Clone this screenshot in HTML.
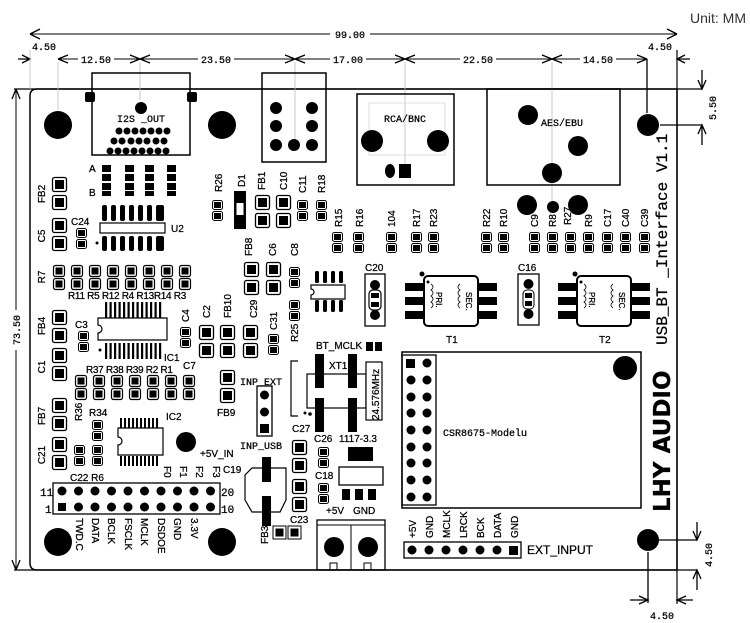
<!DOCTYPE html>
<html><head><meta charset="utf-8"><style>
html,body{margin:0;padding:0;background:#fff;}
svg{display:block;}
text{font-family:"Liberation Sans",sans-serif;font-size:10px;fill:#000;stroke:#000;stroke-width:0.25px;}
.m{font-family:"Liberation Mono",monospace;}
</style></head><body>
<svg width="750" height="623" viewBox="0 0 750 623" xmlns="http://www.w3.org/2000/svg">
<defs>
<g id="sr"><rect x="0.5" y="0.5" width="10" height="9" rx="2" fill="none" stroke="#000"/><rect x="2" y="2" width="7" height="6"/><rect x="0.5" y="11.5" width="10" height="9" rx="2" fill="none" stroke="#000"/><rect x="2" y="13" width="7" height="6"/></g>
<g id="mr"><rect x="0.5" y="0.5" width="11" height="11" rx="2" fill="none" stroke="#000" stroke-width="1.2"/><rect x="2.5" y="2.5" width="7" height="7"/><rect x="0.5" y="13.5" width="11" height="11" rx="2" fill="none" stroke="#000" stroke-width="1.2"/><rect x="2.5" y="15.5" width="7" height="7"/></g>
<g id="lc"><rect x="0.5" y="0.5" width="14" height="14" rx="2" fill="none" stroke="#000" stroke-width="1.3"/><rect x="3" y="3" width="9" height="9"/><rect x="0.5" y="18.5" width="14" height="14" rx="2" fill="none" stroke="#000" stroke-width="1.3"/><rect x="3" y="21" width="9" height="9"/></g>
<g id="xf">
<rect x="19" y="0" width="54" height="50" rx="4" fill="none" stroke="#000" stroke-width="2"/>
<rect x="0" y="7" width="19" height="8"/><rect x="0" y="21" width="19" height="8"/><rect x="0" y="35" width="19" height="8"/>
<rect x="73" y="7" width="19" height="8"/><rect x="73" y="21" width="19" height="8"/><rect x="73" y="35" width="19" height="8"/>
<circle cx="17" cy="-2" r="2.5"/><circle cx="23" cy="6" r="1.5"/>
<path d="M26 8 q4 3 0 6 q4 3 0 6 q4 3 0 6 q4 3 0 6 M55 8 q-4 3 0 6 q-4 3 0 6 q-4 3 0 6 q-4 3 0 6" fill="none" stroke="#000" stroke-width="0.8"/>
</g>
</defs>

<text x="690" y="23" style="font-size:14px;fill:#333;stroke:none">Unit: MM</text>

<path d="M30 96 Q30 89 37 89 L677 89 L677 570 L37 570 Q30 570 30 563 Z" fill="none" stroke="#000" stroke-width="1.5"/>
<line x1="14" y1="89" x2="702" y2="89" stroke="#000" stroke-width="1.2"/>
<line x1="14" y1="570" x2="697" y2="570" stroke="#000" stroke-width="1.2"/>
<line x1="677" y1="50" x2="677" y2="604" stroke="#000" stroke-width="1.2"/>

<line x1="30" y1="34" x2="677" y2="34" stroke="#000"/>
<path d="M30 34 l10 -5 M30 34 l10 5 M677 34 l-10 -5 M677 34 l-10 5" stroke="#000" fill="none" stroke-width="1.3"/>
<rect x="330" y="28" width="40" height="12" fill="#fff"/><text x="350" y="38" text-anchor="middle" class="m">99.00</text>
<line x1="16" y1="89" x2="16" y2="570" stroke="#000"/>
<path d="M16 89 l-4 10 M16 89 l4 10 M16 570 l-4 -10 M16 570 l4 -10" stroke="#000" fill="none" stroke-width="1.3"/>
<rect x="10" y="310" width="12" height="40" fill="#fff"/>
<text transform="translate(20,330) rotate(-90)" text-anchor="middle" class="m">73.50</text>

<line x1="58" y1="59" x2="647" y2="59" stroke="#000"/>
<path d="M18 59 L30 59 M22 55 L30 59 L22 63" stroke="#000" fill="none" stroke-width="1.3"/>
<path d="M58 59 l10 -4 M58 59 l10 4 M140 59 l-10 -4 M140 59 l-10 4 M140 59 l10 -4 M140 59 l10 4 M295 59 l-10 -4 M295 59 l-10 4 M295 59 l10 -4 M295 59 l10 4 M405 59 l-10 -4 M405 59 l-10 4 M405 59 l10 -4 M405 59 l10 4 M552 59 l-10 -4 M552 59 l-10 4 M552 59 l10 -4 M552 59 l10 4 M647 59 l-10 -4 M647 59 l-10 4" stroke="#000" fill="none" stroke-width="1.3"/>
<path d="M690 59 L677 59 M685 55 L677 59 L685 63" stroke="#000" fill="none" stroke-width="1.3"/>
<g fill="#fff"><rect x="78" y="53" width="36" height="12"/><rect x="198" y="53" width="36" height="12"/><rect x="330" y="53" width="36" height="12"/><rect x="460" y="53" width="36" height="12"/><rect x="580" y="53" width="36" height="12"/></g>
<text x="96" y="63" text-anchor="middle" class="m">12.50</text>
<text x="216" y="63" text-anchor="middle" class="m">23.50</text>
<text x="348" y="63" text-anchor="middle" class="m">17.00</text>
<text x="478" y="63" text-anchor="middle" class="m">22.50</text>
<text x="598" y="63" text-anchor="middle" class="m">14.50</text>
<text x="44" y="50" text-anchor="middle" class="m">4.50</text>
<text x="660" y="50" text-anchor="middle" class="m">4.50</text>
<g stroke="#bbb" stroke-width="0.8"><line x1="58" y1="62" x2="58" y2="110"/><line x1="140" y1="62" x2="140" y2="100"/><line x1="295" y1="62" x2="295" y2="140"/><line x1="405" y1="62" x2="405" y2="165"/><line x1="552" y1="62" x2="552" y2="205"/><line x1="30" y1="50" x2="30" y2="89"/></g>
<line x1="647" y1="59" x2="647" y2="113" stroke="#000" stroke-width="1.3"/>

<line x1="660" y1="125" x2="702" y2="125" stroke="#000" stroke-width="1.2"/>
<path d="M702 70 L702 89 M698 80 L702 89 L706 80 M702 145 L702 125 M698 134 L702 125 L706 134" stroke="#000" fill="none" stroke-width="1.3"/>
<text transform="translate(716,108) rotate(-90)" text-anchor="middle" class="m">5.50</text>

<line x1="659" y1="540" x2="697" y2="540" stroke="#000" stroke-width="1.2"/>
<path d="M697 522 L697 540 M693 531 L697 540 L701 531 M697 590 L697 570 M693 579 L697 570 L701 579" stroke="#000" fill="none" stroke-width="1.3"/>
<text transform="translate(712,555) rotate(-90)" text-anchor="middle" class="m">4.50</text>
<line x1="648" y1="552" x2="648" y2="603" stroke="#000" stroke-width="1.3"/>
<path d="M630 600 L648 600 M639 596 L648 600 L639 604 M693 600 L677 600 M686 596 L677 600 L686 604" stroke="#000" fill="none" stroke-width="1.3"/>
<text x="662" y="619" text-anchor="middle" class="m">4.50</text>

<circle cx="58" cy="125" r="14"/><circle cx="222" cy="125" r="14"/>
<circle cx="58" cy="542" r="14"/><circle cx="222" cy="542" r="14"/>
<circle cx="648" cy="125" r="11"/><circle cx="648" cy="540" r="11"/>
<circle cx="186" cy="442" r="10"/>

<rect x="92" y="73" width="98" height="82" fill="none" stroke="#000" stroke-width="1.5"/>
<rect x="85" y="92" width="10" height="10" rx="2"/><rect x="187" y="92" width="10" height="10" rx="2"/>
<circle cx="141" cy="108" r="6"/>
<text x="141" y="122" text-anchor="middle" class="m">I2S _OUT</text>
<g>
<circle cx="119" cy="131" r="3.5"/><circle cx="127" cy="131" r="3.5"/><circle cx="135" cy="131" r="3.5"/><circle cx="143" cy="131" r="3.5"/><circle cx="151" cy="131" r="3.5"/><circle cx="159" cy="131" r="3.5"/><circle cx="167" cy="131" r="3.5"/>
<circle cx="114" cy="141" r="3.5"/><circle cx="122" cy="141" r="3.5"/><circle cx="131" cy="141" r="3.5"/><circle cx="139" cy="141" r="3.5"/><circle cx="147" cy="141" r="3.5"/><circle cx="156" cy="141" r="3.5"/><circle cx="164" cy="141" r="3.5"/>
<circle cx="110" cy="151" r="3.5"/><circle cx="118" cy="151" r="3.5"/><circle cx="126" cy="151" r="3.5"/><circle cx="134" cy="151" r="3.5"/><circle cx="142" cy="151" r="3.5"/><circle cx="150" cy="151" r="3.5"/><circle cx="158" cy="151" r="3.5"/><circle cx="166" cy="151" r="3.5"/>
</g>

<rect x="262" y="73" width="64" height="89" fill="none" stroke="#000" stroke-width="1.5"/>
<circle cx="276" cy="108" r="6"/><circle cx="312" cy="108" r="6"/><circle cx="276" cy="126" r="6"/><circle cx="312" cy="126" r="6"/><circle cx="276" cy="145" r="6"/><circle cx="294" cy="145" r="6"/><circle cx="312" cy="145" r="6"/>

<rect x="357" y="94" width="97" height="91" fill="none" stroke="#000" stroke-width="1.5"/>
<rect x="369" y="103" width="76" height="52" fill="none" stroke="#ddd"/>
<text x="405" y="122" text-anchor="middle" class="m">RCA/BNC</text>
<circle cx="372" cy="141" r="11"/><circle cx="438" cy="141" r="11"/>
<ellipse cx="390" cy="171" rx="5" ry="7"/><rect x="399" y="164" width="12" height="14"/>

<rect x="487" y="89" width="133" height="96" fill="none" stroke="#000" stroke-width="1.5"/>
<text x="562" y="126" text-anchor="middle" class="m">AES/EBU</text>
<circle cx="528" cy="115" r="10"/><circle cx="578" cy="146" r="10"/><circle cx="552" cy="173" r="10"/>
<circle cx="527" cy="205" r="10"/><circle cx="553" cy="207" r="6"/><circle cx="578" cy="205" r="10"/>

<text transform="translate(667,345) rotate(-90)" class="m" style="font-size:16px">USB_BT _Interface V1.1</text>
<text transform="translate(670,512) rotate(-90)" style="font-size:23px;font-weight:bold;font-family:'DejaVu Sans',sans-serif">LHY AUDIO</text>

<use href="#lc" x="52" y="177"/><text transform="translate(45,194) rotate(-90)" text-anchor="middle">FB2</text>
<use href="#lc" x="52" y="218"/><text transform="translate(45,236) rotate(-90)" text-anchor="middle">C5</text>
<use href="#sr" x="76" y="228"/><text x="71" y="225">C24</text>

<text x="89" y="172">A</text><text x="89" y="196">B</text>
<g>
<rect x="102" y="165" width="9" height="7"/><rect x="102" y="174" width="9" height="7"/><rect x="102" y="183" width="9" height="7"/><rect x="102" y="191" width="9" height="5"/>
<rect x="125" y="165" width="9" height="7"/><rect x="125" y="174" width="9" height="7"/><rect x="125" y="183" width="9" height="7"/><rect x="125" y="191" width="9" height="5"/>
<rect x="145" y="165" width="9" height="7"/><rect x="145" y="174" width="9" height="7"/><rect x="145" y="183" width="9" height="7"/><rect x="145" y="191" width="9" height="5"/>
<rect x="167" y="165" width="9" height="7"/><rect x="167" y="174" width="9" height="7"/><rect x="167" y="183" width="9" height="7"/><rect x="167" y="191" width="9" height="5"/>
</g>
<g fill="#000">
<rect x="102" y="205" width="5" height="16" rx="2"/><rect x="111" y="205" width="5" height="16" rx="2"/><rect x="120" y="205" width="5" height="16" rx="2"/><rect x="129" y="205" width="5" height="16" rx="2"/><rect x="138" y="205" width="5" height="16" rx="2"/><rect x="147" y="205" width="5" height="16" rx="2"/><rect x="156" y="205" width="5" height="16" rx="2"/><rect x="159" y="205" width="5" height="16" rx="2"/>
<rect x="102" y="236" width="5" height="15" rx="2"/><rect x="111" y="236" width="5" height="15" rx="2"/><rect x="120" y="236" width="5" height="15" rx="2"/><rect x="129" y="236" width="5" height="15" rx="2"/><rect x="138" y="236" width="5" height="15" rx="2"/><rect x="147" y="236" width="5" height="15" rx="2"/><rect x="156" y="236" width="5" height="15" rx="2"/><rect x="159" y="236" width="5" height="15" rx="2"/>
</g>
<rect x="100" y="223" width="65" height="10" fill="#fff" stroke="#000" stroke-width="1.2"/>
<circle cx="97" cy="243" r="1.5"/><text x="171" y="232">U2</text>

<use href="#mr" x="53" y="265"/><use href="#mr" x="71" y="265"/><use href="#mr" x="89" y="265"/><use href="#mr" x="107" y="265"/><use href="#mr" x="125" y="265"/><use href="#mr" x="143" y="265"/><use href="#mr" x="161" y="265"/><use href="#mr" x="179" y="265"/>
<text transform="translate(45,277) rotate(-90)" text-anchor="middle">R7</text>
<text x="68" y="299" style="letter-spacing:-0.3px">R11 R5 R12 R4 R13R14 R3</text>

<g fill="#000">
<rect x="105" y="302" width="2.2" height="16"/><rect x="109.5" y="302" width="2.2" height="16"/><rect x="114" y="302" width="2.2" height="16"/><rect x="118.5" y="302" width="2.2" height="16"/><rect x="123" y="302" width="2.2" height="16"/><rect x="127.5" y="302" width="2.2" height="16"/><rect x="132" y="302" width="2.2" height="16"/><rect x="136.5" y="302" width="2.2" height="16"/><rect x="141" y="302" width="2.2" height="16"/><rect x="145.5" y="302" width="2.2" height="16"/><rect x="150" y="302" width="2.2" height="16"/><rect x="154.5" y="302" width="2.2" height="16"/><rect x="159" y="302" width="2.2" height="16"/>
<rect x="105" y="343" width="2.2" height="16"/><rect x="109.5" y="343" width="2.2" height="16"/><rect x="114" y="343" width="2.2" height="16"/><rect x="118.5" y="343" width="2.2" height="16"/><rect x="123" y="343" width="2.2" height="16"/><rect x="127.5" y="343" width="2.2" height="16"/><rect x="132" y="343" width="2.2" height="16"/><rect x="136.5" y="343" width="2.2" height="16"/><rect x="141" y="343" width="2.2" height="16"/><rect x="145.5" y="343" width="2.2" height="16"/><rect x="150" y="343" width="2.2" height="16"/><rect x="154.5" y="343" width="2.2" height="16"/><rect x="159" y="343" width="2.2" height="16"/>
</g>
<path d="M98 318 L167 318 L167 340 L98 340 L98 333 A4 4 0 0 0 98 325 Z" fill="#fff" stroke="#000" stroke-width="1.2"/>
<circle cx="100" cy="350" r="1.5"/><text x="164" y="361">IC1</text>
<use href="#sr" x="78" y="331"/><text x="75" y="328">C3</text>
<use href="#lc" x="52" y="310"/><text transform="translate(45,326) rotate(-90)" text-anchor="middle">FB4</text>
<use href="#lc" x="52" y="348"/><text transform="translate(45,367) rotate(-90)" text-anchor="middle">C1</text>

<use href="#sr" x="180" y="327"/><text transform="translate(189,322) rotate(-90)">C4</text>
<use href="#lc" x="199" y="325"/><text transform="translate(210,318) rotate(-90)">C2</text>
<use href="#lc" x="220" y="325"/><text transform="translate(231,318) rotate(-90)">FB10</text>
<use href="#lc" x="243" y="325"/><text transform="translate(257,318) rotate(-90)">C29</text>
<use href="#sr" x="268" y="334"/><text transform="translate(277,330) rotate(-90)">C31</text>
<text x="183" y="369">C7</text>

<use href="#mr" x="75" y="375"/><use href="#mr" x="93" y="375"/><use href="#mr" x="111" y="375"/><use href="#mr" x="129" y="375"/><use href="#mr" x="147" y="375"/><use href="#mr" x="165" y="375"/><use href="#mr" x="183" y="375"/>
<text x="86" y="373" style="letter-spacing:-0.3px">R37 R38 R39 R2 R1</text>

<use href="#lc" x="220" y="370"/><text x="217" y="416">FB9</text>
<text x="240" y="385" class="m">INP_EXT</text>
<rect x="257" y="386" width="15" height="50" fill="none" stroke="#000" stroke-width="1.3"/>
<circle cx="264.5" cy="395" r="4.5"/><circle cx="264.5" cy="412" r="4.5"/><rect x="260" y="424" width="9" height="9"/>
<text x="240" y="449" class="m">INP_USB</text>

<use href="#lc" x="52" y="398"/><text transform="translate(45,416) rotate(-90)" text-anchor="middle">FB7</text>
<use href="#lc" x="52" y="437"/><text transform="translate(45,455) rotate(-90)" text-anchor="middle">C21</text>
<text transform="translate(82,421) rotate(-90)">R36</text>
<text x="89" y="416">R34</text>
<use href="#sr" x="92" y="420"/><use href="#sr" x="92" y="445"/><use href="#sr" x="74" y="445"/>
<text x="70" y="481">C22 R6</text>

<g fill="#000">
<rect x="120" y="418" width="2" height="10"/><rect x="124" y="418" width="2" height="10"/><rect x="128" y="418" width="2" height="10"/><rect x="132" y="418" width="2" height="10"/><rect x="136" y="418" width="2" height="10"/><rect x="140" y="418" width="2" height="10"/><rect x="144" y="418" width="2" height="10"/><rect x="148" y="418" width="2" height="10"/><rect x="152" y="418" width="2" height="10"/><rect x="156" y="418" width="2" height="10"/>
<rect x="120" y="456" width="2" height="10"/><rect x="124" y="456" width="2" height="10"/><rect x="128" y="456" width="2" height="10"/><rect x="132" y="456" width="2" height="10"/><rect x="136" y="456" width="2" height="10"/><rect x="140" y="456" width="2" height="10"/><rect x="144" y="456" width="2" height="10"/><rect x="148" y="456" width="2" height="10"/><rect x="152" y="456" width="2" height="10"/><rect x="156" y="456" width="2" height="10"/>
</g>
<path d="M118 428 L163 428 L163 455 L118 455 L118 445 A4 4 0 0 0 118 437 Z" fill="#fff" stroke="#000" stroke-width="1.2"/>
<text x="166" y="420">IC2</text>
<text x="200" y="457">+5V_IN</text>

<rect x="53" y="483" width="167" height="31" fill="none" stroke="#000" stroke-width="1.3"/>
<g>
<circle cx="62" cy="491" r="4.5"/><circle cx="78.5" cy="491" r="4.5"/><circle cx="95" cy="491" r="4.5"/><circle cx="111.5" cy="491" r="4.5"/><circle cx="128" cy="491" r="4.5"/><circle cx="144.5" cy="491" r="4.5"/><circle cx="161" cy="491" r="4.5"/><circle cx="177.5" cy="491" r="4.5"/><circle cx="194" cy="491" r="4.5"/><circle cx="210.5" cy="491" r="4.5"/>
<rect x="58" y="503" width="8" height="8"/><circle cx="78.5" cy="507" r="4.5"/><circle cx="95" cy="507" r="4.5"/><circle cx="111.5" cy="507" r="4.5"/><circle cx="128" cy="507" r="4.5"/><circle cx="144.5" cy="507" r="4.5"/><circle cx="161" cy="507" r="4.5"/><circle cx="177.5" cy="507" r="4.5"/><circle cx="194" cy="507" r="4.5"/><circle cx="210.5" cy="507" r="4.5"/>
</g>
<text x="40" y="496" class="m" style="font-size:11px">11</text><text x="45" y="513" class="m" style="font-size:11px">1</text>
<text x="221" y="496" class="m" style="font-size:11px">20</text><text x="221" y="513" class="m" style="font-size:11px">10</text>
<text transform="translate(164,466) rotate(90)">F0</text><text transform="translate(180,466) rotate(90)">F1</text><text transform="translate(196,466) rotate(90)">F2</text><text transform="translate(213,466) rotate(90)">F3</text>
<g>
<text transform="translate(76,518) rotate(90)">TWD.C</text>
<text transform="translate(92,518) rotate(90)">DATA</text>
<text transform="translate(108,518) rotate(90)">BCLK</text>
<text transform="translate(125,518) rotate(90)">FSCLK</text>
<text transform="translate(141,518) rotate(90)">MCLK</text>
<text transform="translate(158,518) rotate(90)">DSDOE</text>
<text transform="translate(174,518) rotate(90)">GND</text>
<text transform="translate(191,518) rotate(90)">3.3V</text>
</g>

<use href="#sr" x="212" y="200"/><text transform="translate(222,192) rotate(-90)">R26</text>
<rect x="234" y="191" width="12" height="38"/><rect x="236.5" y="203" width="7" height="12" fill="#fff"/><text transform="translate(245,187) rotate(-90)">D1</text>
<use href="#lc" x="255" y="195"/><text transform="translate(265,190) rotate(-90)">FB1</text>
<use href="#lc" x="276" y="195"/><text transform="translate(287,190) rotate(-90)">C10</text>
<use href="#sr" x="297" y="200"/><text transform="translate(306,193) rotate(-90)">C11</text>
<use href="#sr" x="316" y="200"/><text transform="translate(325,193) rotate(-90)">R18</text>

<use href="#sr" x="332" y="232"/><text transform="translate(342,227) rotate(-90)">R15</text>
<use href="#sr" x="353" y="232"/><text transform="translate(363,227) rotate(-90)">R16</text>
<use href="#sr" x="386" y="232"/><text transform="translate(395,227) rotate(-90)">104</text>
<use href="#sr" x="411" y="232"/><text transform="translate(420,227) rotate(-90)">R17</text>
<use href="#sr" x="428" y="232"/><text transform="translate(437,227) rotate(-90)">R23</text>
<use href="#sr" x="481" y="232"/><text transform="translate(490,227) rotate(-90)">R22</text>
<use href="#sr" x="498" y="232"/><text transform="translate(507,227) rotate(-90)">R10</text>
<use href="#sr" x="529" y="232"/><text transform="translate(538,227) rotate(-90)">C9</text>
<use href="#sr" x="547" y="232"/><text transform="translate(556,227) rotate(-90)">R8</text>
<use href="#sr" x="565" y="232"/><text transform="translate(571,225) rotate(-90)">R27</text>
<use href="#sr" x="583" y="232"/><text transform="translate(592,227) rotate(-90)">R9</text>
<use href="#sr" x="602" y="232"/><text transform="translate(611,227) rotate(-90)">C17</text>
<use href="#sr" x="620" y="232"/><text transform="translate(629,227) rotate(-90)">C40</text>
<use href="#sr" x="639" y="232"/><text transform="translate(648,227) rotate(-90)">C39</text>

<use href="#lc" x="244" y="262"/><text transform="translate(252,256) rotate(-90)">FB8</text>
<use href="#lc" x="266" y="262"/><text transform="translate(276,256) rotate(-90)">C6</text>
<use href="#sr" x="289" y="267"/><text transform="translate(298,256) rotate(-90)">C8</text>
<use href="#sr" x="289" y="300"/><text transform="translate(298,342) rotate(-90)">R25</text>

<g fill="#000"><rect x="315" y="271" width="4" height="12" rx="1.5"/><rect x="323" y="271" width="4" height="12" rx="1.5"/><rect x="331" y="271" width="4" height="12" rx="1.5"/><rect x="339" y="271" width="4" height="12" rx="1.5"/>
<rect x="315" y="300" width="4" height="12" rx="1.5"/><rect x="323" y="300" width="4" height="12" rx="1.5"/><rect x="331" y="300" width="4" height="12" rx="1.5"/><rect x="339" y="300" width="4" height="12" rx="1.5"/></g>
<path d="M311 285 L345 285 L345 299 L311 299 L311 295 A3 3 0 0 0 311 289 Z" fill="#fff" stroke="#000" stroke-width="1.2"/>

<rect x="365" y="274" width="20" height="52" fill="none" stroke="#000" stroke-width="1.3"/>
<circle cx="375" cy="285" r="5"/><circle cx="375" cy="315" r="5"/>
<rect x="369" y="290" width="12" height="20" rx="4" fill="#fff" stroke="#000" stroke-width="1.2"/><rect x="371" y="293" width="8" height="5"/><rect x="371" y="302" width="8" height="5"/>
<text x="365" y="271">C20</text>

<text x="316" y="349">BT_MCLK</text>
<rect x="366" y="342" width="7" height="9"/><rect x="375" y="342" width="7" height="9"/>
<path d="M298 361 L291 361 L291 416 L298 416" fill="none" stroke="#000" stroke-width="1.2"/>
<rect x="307" y="374" width="59" height="34" fill="none" stroke="#000" stroke-width="1.2"/>
<rect x="315" y="354" width="9" height="34"/><rect x="348" y="354" width="9" height="34"/>
<rect x="315" y="398" width="9" height="34"/><rect x="348" y="398" width="9" height="34"/>
<text x="329" y="369">XT1</text>
<circle cx="305" cy="413" r="1.5"/><circle cx="310" cy="414" r="1.8"/>
<rect x="366" y="362" width="16" height="58" fill="#fff" stroke="#000" stroke-width="1.2"/>
<text transform="translate(379,420) rotate(-90)">24.576MHz</text>
<text x="292" y="432">C27</text><text x="314" y="442">C26</text><text x="339" y="442">1117-3.3</text>

<use href="#lc" x="292" y="440"/><use href="#lc" x="292" y="479"/>
<use href="#sr" x="318" y="447"/><use href="#sr" x="318" y="483"/><text x="315" y="479">C18</text>
<rect x="348" y="447" width="25" height="14"/>
<rect x="339" y="467" width="44" height="18" fill="none" stroke="#000" stroke-width="1.3"/>
<rect x="342" y="489" width="8" height="11"/><rect x="355" y="489" width="8" height="11"/><rect x="368" y="489" width="8" height="11"/>
<text x="326" y="514">+5V</text><text x="353" y="514">GND</text>

<path d="M252 468 L286 468 L286 500 L280 512 L252 512 L245 500 L245 475 Z" fill="none" stroke="#000" stroke-width="1.2"/>
<rect x="262" y="457" width="9" height="25"/><rect x="262" y="496" width="9" height="30"/>
<text x="223" y="473">C19</text>
<text x="290" y="523">C23</text>
<rect x="273" y="526" width="13" height="13" fill="none" stroke="#000"/><rect x="275.5" y="528.5" width="8" height="8"/>
<rect x="288" y="526" width="13" height="13" fill="none" stroke="#000"/><rect x="290.5" y="528.5" width="8" height="8"/>
<text transform="translate(268,544) rotate(-90)">FB3</text>

<rect x="317" y="520" width="68" height="50" fill="none" stroke="#000" stroke-width="1.3"/>
<line x1="351" y1="525" x2="351" y2="570" stroke="#000"/><line x1="317" y1="525" x2="385" y2="525" stroke="#000"/>
<circle cx="334" cy="547" r="10"/><circle cx="368" cy="547" r="10"/>
<rect x="330" y="563" width="7" height="7" fill="none" stroke="#000"/><rect x="364" y="563" width="7" height="7" fill="none" stroke="#000"/>

<use href="#xf" x="405" y="276"/><text x="446" y="343">T1</text>
<text transform="translate(436,292) rotate(90)" style="font-size:8px">PRI.</text>
<text transform="translate(466,292) rotate(90)" style="font-size:8px">SEC.</text>
<use href="#xf" x="558" y="276"/><text x="599" y="343">T2</text>
<text transform="translate(589,292) rotate(90)" style="font-size:8px">PRI.</text>
<text transform="translate(619,292) rotate(90)" style="font-size:8px">SEC.</text>
<rect x="518" y="274" width="21" height="51" fill="none" stroke="#000" stroke-width="1.3"/>
<circle cx="528.5" cy="284" r="5"/><circle cx="528.5" cy="314" r="5"/>
<rect x="523" y="290" width="11" height="19" rx="4" fill="#fff" stroke="#000"/><rect x="525" y="293" width="7" height="5"/><rect x="525" y="301" width="7" height="5"/>
<text x="518" y="271">C16</text>

<rect x="402" y="352" width="239" height="156" fill="none" stroke="#000" stroke-width="1.5"/>
<rect x="402" y="355" width="34" height="150" fill="none" stroke="#000" stroke-width="1.3"/>
<g>
<rect x="406" y="359" width="9" height="9"/><circle cx="427" cy="363" r="4.5"/>
<circle cx="411" cy="380" r="4.5"/><circle cx="427" cy="380" r="4.5"/>
<circle cx="411" cy="397" r="4.5"/><circle cx="427" cy="397" r="4.5"/>
<circle cx="411" cy="413" r="4.5"/><circle cx="427" cy="413" r="4.5"/>
<circle cx="411" cy="430" r="4.5"/><circle cx="427" cy="430" r="4.5"/>
<circle cx="411" cy="447" r="4.5"/><circle cx="427" cy="447" r="4.5"/>
<circle cx="411" cy="463" r="4.5"/><circle cx="427" cy="463" r="4.5"/>
<circle cx="411" cy="480" r="4.5"/><circle cx="427" cy="480" r="4.5"/>
<circle cx="411" cy="497" r="4.5"/><circle cx="427" cy="497" r="4.5"/>
</g>
<circle cx="625" cy="368" r="12"/>
<text x="443" y="436" class="m">CSR8675-Modelu</text>

<rect x="404" y="542" width="117" height="16" fill="none" stroke="#000" stroke-width="1.3"/>
<circle cx="412" cy="550" r="4.5"/><circle cx="429" cy="550" r="4.5"/><circle cx="446" cy="550" r="4.5"/><circle cx="463" cy="550" r="4.5"/><circle cx="480" cy="550" r="4.5"/><circle cx="497" cy="550" r="4.5"/><rect x="509" y="546" width="9" height="9"/>
<text transform="translate(416,538) rotate(-90)">+5V</text>
<text transform="translate(433,538) rotate(-90)">GND</text>
<text transform="translate(450,538) rotate(-90)">MCLK</text>
<text transform="translate(467,538) rotate(-90)">LRCK</text>
<text transform="translate(484,538) rotate(-90)">BCK</text>
<text transform="translate(501,538) rotate(-90)">DATA</text>
<text transform="translate(518,538) rotate(-90)">GND</text>
<text x="527" y="554" style="font-size:12px">EXT_INPUT</text>
</svg>
</body></html>
